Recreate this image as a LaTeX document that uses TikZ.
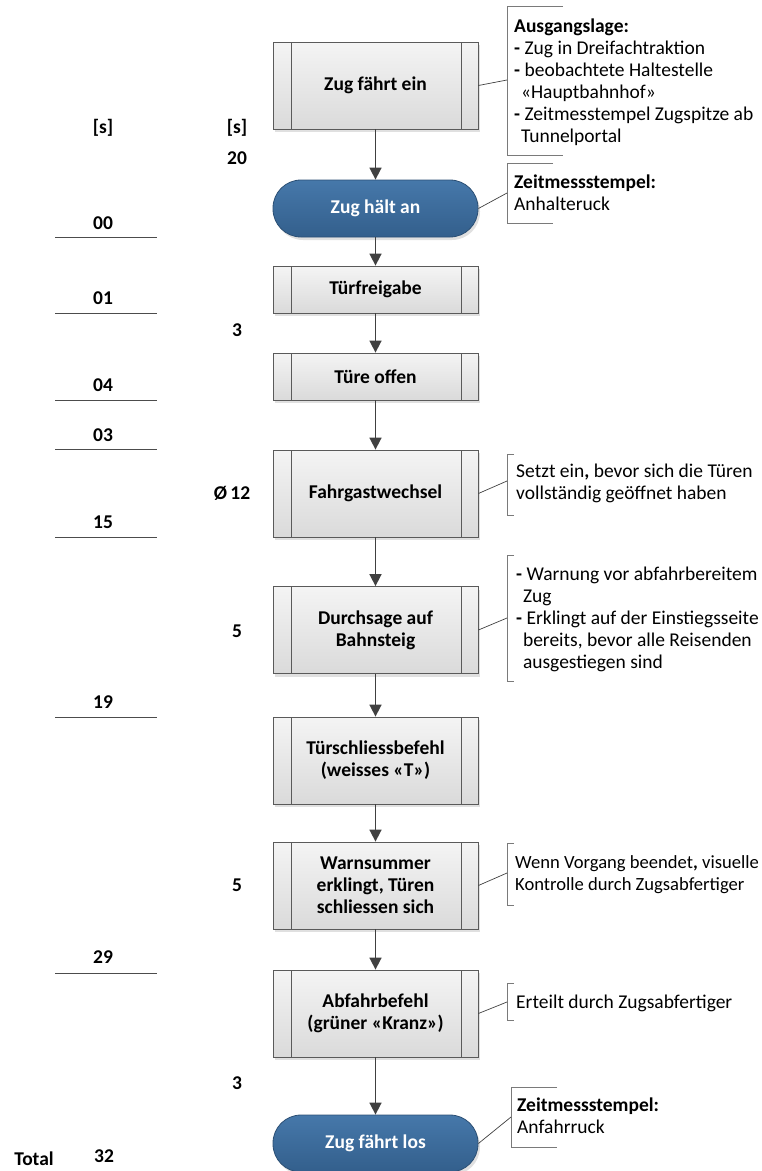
\documentclass[tikz,border=0pt]{standalone}
\usepackage{fontspec}
\setmainfont{Carlito}
\usetikzlibrary{arrows.meta,shadows,calc}
\definecolor{boxtop}{HTML}{F4F4F4}
\definecolor{boxbot}{HTML}{DADADA}
\definecolor{boxborder}{HTML}{5A5A5A}
\definecolor{termtop}{HTML}{4678AA}
\definecolor{termbot}{HTML}{335F8C}
\definecolor{termborder}{HTML}{2C5075}
\definecolor{arrowcol}{HTML}{404040}
\definecolor{notecol}{HTML}{7A7A7A}
\begin{document}
\begin{tikzpicture}[x=1pt,y=-1pt,
  every node/.style={font=\fontsize{19.5}{22}\selectfont},
  procbox/.style={draw=boxborder, line width=0.8pt, top color=boxtop, bottom color=boxbot,
    minimum width=205pt, inner sep=0pt, align=center, font=\fontsize{19.5}{22}\selectfont\bfseries,
    drop shadow={shadow xshift=2pt, shadow yshift=-3pt, fill=black!12, opacity=1},
    path picture={
      \draw[boxborder, line width=0.8pt] ([xshift=18pt]path picture bounding box.north west) -- ([xshift=18pt]path picture bounding box.south west);
      \draw[boxborder, line width=0.8pt] ([xshift=-17pt]path picture bounding box.north east) -- ([xshift=-17pt]path picture bounding box.south east);}},
  termbox/.style={draw=termborder, line width=0.8pt, top color=termtop, bottom color=termbot,
    minimum width=205pt, minimum height=57pt, rounded corners=28pt, inner sep=0pt,
    text=white, font=\fontsize{19.5}{22}\selectfont\bfseries,
    drop shadow={shadow xshift=2pt, shadow yshift=-3pt, fill=black!12, opacity=1}},
  flow/.style={draw=arrowcol, line width=1.6pt, -{Triangle[width=12pt,length=12pt]}},
  notebr/.style={draw=notecol, line width=0.9pt},
  notelink/.style={draw=arrowcol, line width=0.7pt},
  notetext/.style={anchor=north west, inner sep=0pt, align=left},
  num/.style={font=\fontsize{19.5}{22}\selectfont\bfseries, inner sep=0pt},
  tick/.style={draw=black!70, line width=0.9pt}
]
\useasboundingbox (0,0) rectangle (762,1171);

% main flow
\node[procbox, minimum height=87pt] (b1) at (375.5,85.5) {Zug fährt ein};
\node[termbox] (t1) at (375.5,208.5) {Zug hält an};
\node[procbox, minimum height=47pt] (b2) at (375.5,289.5) {Türfreigabe};
\node[procbox, minimum height=47pt] (b3) at (375.5,376.5) {Türe offen};
\node[procbox, minimum height=87pt] (b4) at (375.5,493.5) {Fahrgastwechsel};
\node[procbox, minimum height=87pt] (b5) at (375.5,630) {Durchsage auf\\Bahnsteig};
\node[procbox, minimum height=87pt] (b6) at (375.5,760.5) {Türschliessbefehl\\(weisses «T»)};
\node[procbox, minimum height=87pt] (b7) at (375.5,885.5) {Warnsummer\\erklingt\textbf{,} Türen\\schliessen sich};
\node[procbox, minimum height=87pt] (b8) at (375.5,1013.5) {Abfahrbefehl\\(grüner «Kranz»)};
\node[termbox] (t2) at (375.5,1143.5) {Zug fährt los};

\draw[flow] (b1) -- (t1);
\draw[flow] (t1) -- (b2);
\draw[flow] (b2) -- (b3);
\draw[flow] (b3) -- (b4);
\draw[flow] (b4) -- (b5);
\draw[flow] (b5) -- (b6);
\draw[flow] (b6) -- (b7);
\draw[flow] (b7) -- (b8);
\draw[flow] (b8) -- (t2);

% annotation 1
\coordinate (a1) at (507,80);
\draw[notebr] (563,6) -- (507,6) -- (507,155) -- (563,155);
\draw[notelink] (b1.east) -- (a1);
\node[notetext] (n1) at (514,19) {\textbf{Ausgangslage:}\\
\textbf{-} Zug in Dreifachtraktion\\
\textbf{-} beobachtete Haltestelle\\
\hspace*{0.35em}«Hauptbahnhof»\\
\textbf{-} Zeitmesstempel Zugspitze ab\\
\hspace*{0.35em}Tunnelportal};

% annotation 2
\coordinate (a2) at (507,193);
\draw[notebr] (553,163) -- (507,163) -- (507,223) -- (553,223);
\draw[notelink] (t1.east) -- (a2);
\node[notetext] (n2) at (514,175) {\textbf{Zeitmessstempel:}\\Anhalteruck};

% annotation 3
\coordinate (a3) at (507,481);
\draw[notebr] (514,454) -- (507,454) -- (507,515) -- (514,515);
\draw[notelink] (b4.east) -- (a3);
\node[notetext] (n3) at (516,464) {Setzt ein\textbf{,} bevor sich die Türen\\vollständig geöffnet haben};

% annotation 4
\coordinate (a4) at (507,618);
\draw[notebr] (514,555) -- (507,555) -- (507,681) -- (514,681);
\draw[notelink] (b5.east) -- (a4);
\node[notetext] (n4) at (516,567) {\textbf{-} Warnung vor abfahrbereitem\\
\hspace*{0.35em}Zug\\
\textbf{-} Erklingt auf der Einstiegsseite\\
\hspace*{0.35em}bereits, bevor alle Reisenden\\
\hspace*{0.35em}ausgestiegen sind};

% annotation 5
\coordinate (a5) at (507,873);
\draw[notebr] (514,843) -- (507,843) -- (507,905) -- (514,905);
\draw[notelink] (b7.east) -- (a5);
\node[notetext, font=\fontsize{18.6}{22}\selectfont] (n5) at (515,855) {Wenn Vorgang beendet\textbf{,} visuelle\\Kontrolle durch Zugsabfertiger};

% annotation 6
\coordinate (a6) at (507,1002);
\draw[notebr] (514,983) -- (507,983) -- (507,1020) -- (514,1020);
\draw[notelink] (b8.east) -- (a6);
\node[notetext] (n6) at (516,995) {Erteilt durch Zugsabfertiger};

% annotation 7
\coordinate (a7) at (511,1117);
\draw[notebr] (557,1087) -- (511,1087) -- (511,1147) -- (557,1147);
\draw[notelink] (t2.east) -- (a7);
\node[notetext] (n7) at (517,1098) {\textbf{Zeitmessstempel:}\\Anfahrruck};

% left column
\node[num] (s1) at (103,128) {[s]};
\node[num] (s2) at (237,128) {[s]};
\node[num] (d20) at (237,158) {20};
\node[num] (c00) at (103,223) {00};
\node[num] (c01) at (103,298) {01};
\node[num] (d3a) at (237,330) {3};
\node[num] (c04) at (103,385) {04};
\node[num] (c03) at (103,435) {03};
\node[num] (d12) at (232,493) {Ø\,12};
\node[num] (c15) at (103,522) {15};
\node[num] (d5a) at (237,631) {5};
\node[num] (c19) at (103,702) {19};
\node[num] (d5b) at (237,885) {5};
\node[num] (c29) at (103,957) {29};
\node[num] (d3b) at (237,1083) {3};
\node[num] (tot) at (34,1159) {Total};
\node[num] (t32) at (104,1156) {32};

\draw[tick] (55,237) -- (157,237);
\draw[tick] (55,313) -- (157,313);
\draw[tick] (55,400) -- (157,400);
\draw[tick] (55,449) -- (157,449);
\draw[tick] (55,537) -- (157,537);
\draw[tick] (55,717) -- (157,717);
\draw[tick] (55,973) -- (157,973);
\end{tikzpicture}
\end{document}
